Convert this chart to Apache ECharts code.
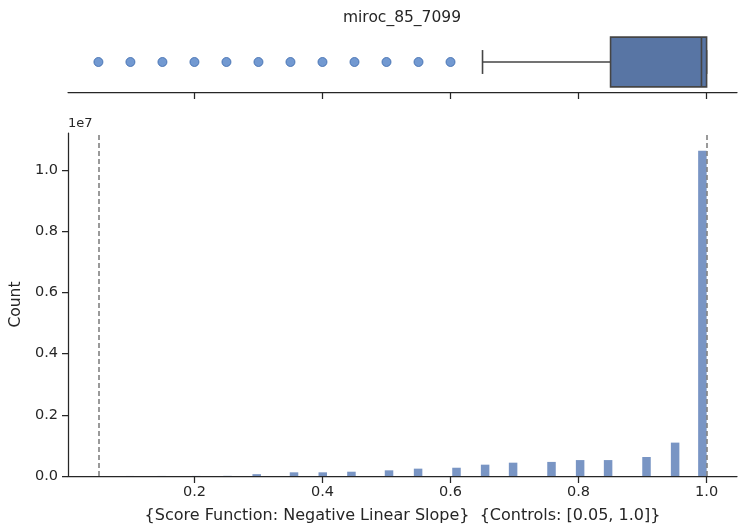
<!DOCTYPE html>
<html>
<head>
<meta charset="utf-8">
<script src="https://cdn.jsdelivr.net/npm/echarts@6/dist/echarts.min.js"></script>
<style>html,body{margin:0;padding:0;background:#fff}#c{width:743px;height:529px}</style>
</head>
<body>
<div id="c"></div>
<script>
// ---- data ----
const titleText = 'miroc_85_7099';
const xLabel = '{Score Function: Negative Linear Slope}  {Controls: [0.05, 1.0]}';
const yLabel = 'Count';
const xTicks = [0.2, 0.4, 0.6, 0.8, 1.0];
const yTicks = [0, 2e6, 4e6, 6e6, 8e6, 1e7];
const binValues = [0.05, 0.10, 0.15, 0.20, 0.25, 0.30, 0.35, 0.40, 0.45, 0.50, 0.55, 0.60, 0.65, 0.70, 0.75, 0.80, 0.85, 0.90, 0.95, 1.00];
const binLeft = [0.044, 0.093, 0.142, 0.196, 0.245, 0.2906, 0.3489, 0.3938, 0.4386, 0.4973, 0.5427, 0.6027, 0.6474, 0.6911, 0.7511, 0.7958, 0.8395, 0.8995, 0.9442, 0.9868];
const binWidth = 0.0133;
const counts = [1000, 1500, 2000, 3000, 5000, 60000, 120000, 120000, 140000, 185000, 240000, 270000, 370000, 435000, 460000, 520000, 520000, 620000, 1090000, 10620000];
const boxStats = [0.65, 0.85, 0.992, 1.0, 1.0]; // whiskerLow, Q1, median, Q3, whiskerHigh
const outliers = [0.05, 0.10, 0.15, 0.20, 0.25, 0.30, 0.35, 0.40, 0.45, 0.50, 0.55, 0.60];
const controls = [0.05, 1.0];
const xMin = 0.0025, xMax = 1.0475, yMax = 1.12e7;

// ---- chart ----
const FONT = 'DejaVu Sans';
const INK = '#262626';
const chart = echarts.init(document.getElementById('c'), null, {renderer: 'canvas'});

const xAxisCommon = {
  type: 'value', min: xMin, max: xMax,
  splitLine: {show: false},
  axisLine: {show: true, onZero: false, lineStyle: {color: INK, width: 1.25}},
  axisTick: {show: true, customValues: xTicks, length: 7, lineStyle: {color: INK, width: 1.25}},
};

chart.setOption({
  animation: false,
  backgroundColor: '#fff',
  textStyle: {fontFamily: FONT},
  graphic: [
    {type: 'text', x: 402, y: 18, style: {text: titleText, font: '15.5px "DejaVu Sans"', fill: INK, textAlign: 'center', textVerticalAlign: 'middle'}},
    {type: 'text', x: 68, y: 124, style: {text: '1e7', font: '13px "DejaVu Sans"', fill: INK, textAlign: 'left', textVerticalAlign: 'middle'}}
  ],
  grid: [
    {left: 68, right: 6, top: 32, height: 60},
    {left: 68, right: 6, top: 133, bottom: 53}
  ],
  xAxis: [
    Object.assign({gridIndex: 0, axisLabel: {show: false}}, xAxisCommon),
    Object.assign({gridIndex: 1,
      name: xLabel, nameLocation: 'middle', nameGap: 32,
      nameTextStyle: {color: INK, fontSize: 16, fontFamily: FONT},
      axisLabel: {show: true, customValues: xTicks, margin: 9, color: INK, fontSize: 14.5, fontFamily: FONT,
        formatter: v => v.toFixed(1)}}, xAxisCommon)
  ],
  yAxis: [
    {gridIndex: 0, type: 'category', data: ['box'], show: false},
    {gridIndex: 1, type: 'value', min: 0, max: yMax,
      name: yLabel, nameLocation: 'middle', nameGap: 41,
      nameTextStyle: {color: INK, fontSize: 15.5, fontFamily: FONT},
      splitLine: {show: false},
      axisLine: {show: true, lineStyle: {color: INK, width: 1.25}},
      axisTick: {show: true, customValues: yTicks, length: 6, lineStyle: {color: INK, width: 1.25}},
      axisLabel: {show: true, customValues: yTicks, margin: 10, color: INK, fontSize: 14.5, fontFamily: FONT,
        formatter: v => (v / 1e7).toFixed(1)}}
  ],
  series: [
    {
      type: 'custom', xAxisIndex: 1, yAxisIndex: 1,
      data: binLeft.map((l, i) => [l, counts[i]]),
      renderItem: function (params, api) {
        const l = api.value(0), c = api.value(1);
        const p0 = api.coord([l, c]);
        const p1 = api.coord([l + binWidth, 0]);
        return {type: 'rect', shape: {x: p0[0], y: p0[1], width: p1[0] - p0[0], height: p1[1] - p0[1]},
          style: {fill: '#7995c4'}};
      },
      markLine: {
        silent: true, symbol: 'none', label: {show: false},
        lineStyle: {color: '#7a7a7a', type: [5, 3], width: 1.5},
        data: controls.map(v => ({xAxis: v}))
      },
      z: 2
    },
    {
      type: 'custom', xAxisIndex: 0, yAxisIndex: 0,
      data: [[0].concat(boxStats)],
      renderItem: function (params, api) {
        const lo = api.value(1), q1 = api.value(2), med = api.value(3), q3 = api.value(4), hi = api.value(5);
        const band = api.size([0, 1])[1];
        const yc = api.coord([q1, 0])[1];
        const bh = band * 0.83, ch = bh * 0.48;
        const X = v => api.coord([v, 0])[0];
        const ls = {stroke: '#454545', lineWidth: 1.6};
        return {type: 'group', children: [
          {type: 'line', shape: {x1: X(lo), y1: yc, x2: X(q1), y2: yc}, style: ls},
          {type: 'line', shape: {x1: X(lo), y1: yc - ch / 2, x2: X(lo), y2: yc + ch / 2}, style: ls},
          {type: 'line', shape: {x1: X(q3), y1: yc, x2: X(hi), y2: yc}, style: ls},
          {type: 'line', shape: {x1: X(hi), y1: yc - ch / 2, x2: X(hi), y2: yc + ch / 2}, style: ls},
          {type: 'rect', shape: {x: X(q1), y: yc - bh / 2, width: X(q3) - X(q1), height: bh},
            style: {fill: '#5875a4', stroke: '#454545', lineWidth: 1.6}},
          {type: 'line', shape: {x1: X(med), y1: yc - bh / 2, x2: X(med), y2: yc + bh / 2}, style: ls}
        ]};
      }
    },
    {
      type: 'scatter', xAxisIndex: 0, yAxisIndex: 0,
      data: outliers.map(v => [v, 0]),
      symbol: 'circle', symbolSize: 9,
      itemStyle: {color: '#4f80c6', borderColor: '#3a68ad', borderWidth: 1}
    }
  ]
});
</script>
</body>
</html>
